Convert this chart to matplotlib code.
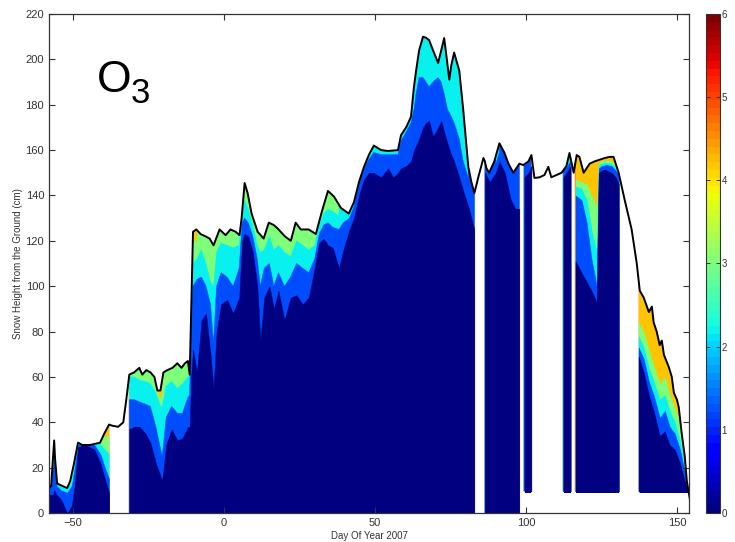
import numpy as np
import matplotlib
matplotlib.use('Agg')
import matplotlib.pyplot as plt
from matplotlib.cm import ScalarMappable
from matplotlib.colors import Normalize

plt.rcParams['font.family'] = ['Liberation Sans', 'DejaVu Sans']

# snow surface height (cm) by day of year
day = [-58.0, -57.3, -56.7, -56.3, -56.0, -55.3, -53.7, -52.0, -51.0, -49.7,
       -48.4, -47.0, -44.4, -41.1, -39.7, -38.1, -37.1, -35.1, -33.4, -32.4,
       -31.4, -29.8, -28.1, -27.1, -25.8, -24.4, -23.1, -22.1, -21.1, -20.1,
       -18.8, -17.1, -15.5, -14.1, -13.0, -12.0, -11.4, -10.3, -9.2, -7.8,
       -6.2, -4.8, -3.5, -1.5, 0.5, 2.1, 3.8, 5.1, 5.8, 6.8,
       7.8, 9.1, 11.1, 13.1, 14.8, 16.4, 17.7, 20.1, 22.1, 23.7,
       25.4, 28.0, 30.4, 32.4, 34.4, 36.4, 38.7, 41.3, 43.0, 44.7,
       46.3, 48.0, 49.6, 52.0, 54.3, 57.6, 58.6, 60.3, 61.9, 62.9,
       63.6, 64.6, 65.9, 66.9, 67.9, 69.2, 70.9, 71.9, 72.9, 73.6,
       74.6, 75.2, 76.2, 77.9, 79.2, 80.9, 81.9, 82.9, 84.2, 85.9,
       86.4, 86.9, 87.8, 89.5, 91.2, 92.8, 94.2, 95.8, 97.8, 99.1,
       100.8, 101.8, 102.8, 104.5, 106.1, 107.4, 108.4, 110.1, 111.8, 113.4,
       114.4, 115.8, 116.8, 117.7, 119.1, 121.1, 122.7, 124.1, 126.1, 127.7,
       129.0, 130.7, 132.7, 135.0, 136.7, 137.7, 139.0, 140.7, 141.7, 142.3,
       143.3, 144.3, 145.0, 145.7, 147.3, 148.3, 149.0, 150.0, 150.6, 151.6,
       152.6, 153.3, 154.3]
height = [11, 12, 24, 32, 24, 13, 12, 11, 14, 22,
          31, 30, 30, 31, 35, 39, 38.5, 38, 40, 50,
          61, 62, 64, 61, 63, 62, 60, 54, 54, 62,
          63, 64, 66, 64, 66, 67, 61, 124, 125, 123,
          122, 121, 118, 125, 122.5, 125, 124, 122.5, 130, 145.5,
          141, 132, 124, 121, 128, 127, 125.5, 122, 120, 128,
          125, 125, 123, 133, 142, 139.5, 134.5, 132, 137, 146,
          152.5, 158, 162, 160, 159.6, 160, 166.6, 170, 174.6, 188,
          195, 204, 210, 209.5, 208.5, 204, 198.4, 204, 209.4, 202,
          191, 197, 203, 195, 178, 152.6, 146, 141, 148, 156.5,
          155, 152, 150, 155, 163, 159, 154, 150, 154, 153.4,
          155, 157.8, 147.7, 148, 149, 152.6, 148, 149, 150, 153,
          158.7, 150, 157.8, 157, 150, 154, 155, 155.6, 156.5, 157,
          157, 150, 138, 125, 110, 98, 95, 88.6, 91, 84,
          80, 74, 76, 69.7, 64.4, 60, 53, 50, 46.7, 35,
          25, 14, 6]

# O3 band tops (cm) for each stretch of profiles; 250 = band reaches the surface
# band order: 0-1, 1-2, 2-3, 3-4, 4-5 (5-6 fills the rest)
xa = [-58, -56.7, -56.3, -55.5, -54, -52, -50.5, -49.5, -48.4, -46, -43, -41, -39.5, -38.1]
a_top1 = [8, 8, 10, 8, 6, 0, 3, 12, 29, 30, 28, 22, 15, 9]
a_top2 = [11, 20, 24, 12, 10, 9, 12, 20, 30, 30, 30, 26, 20, 15]
a_top3 = [250, 250, 250, 250, 12.5, 11.5, 13, 22, 250, 250, 250, 30, 28, 26]
a_top4 = [250, 250, 250, 250, 250, 250, 250, 250, 250, 250, 250, 250, 33, 34]

xb = [-31.4, -29.8, -28.0, -26.0, -24.4, -22.6, -21.0, -20.5, -19.2, -17.4,
      -15.5, -13.8, -12.0, -11.4, -10.9, -10.3, -9.0, -7.5, -6.0, -4.5,
      -3.5, -2.5, -1.0, 1.0, 3.0, 5.0, 6.0, 6.8, 8.0, 9.5,
      11.0, 12.0, 13.3, 15.0, 16.5, 18.0, 20.0, 22.0, 24.0, 26.0,
      28.0, 30.0, 31.5, 33.0, 34.4, 36.0, 38.0, 39.5, 41.5, 43.0,
      44.7, 46.3, 48.0, 49.6, 52.0, 54.3, 56.0, 57.6, 58.6, 60.3,
      61.9, 62.9, 63.6, 64.6, 65.9, 66.9, 67.9, 69.2, 70.9, 71.9,
      72.9, 74.0, 75.2, 76.2, 77.9, 79.2, 80.9, 82.9]
b_top1 = [37, 38, 38, 35, 31, 22, 16, 14.5, 30, 37,
          32, 33, 38, 38, 60, 72, 62, 85, 88, 70,
          55, 80, 92, 94, 88, 95, 120, 123, 122, 115,
          100, 76, 95, 100, 90, 98, 85, 95, 96, 92,
          95, 108, 119, 121, 118, 117, 108, 116, 125, 130,
          140, 147, 150, 150, 148, 152, 148, 150, 152, 153,
          155, 160, 162, 165, 170, 172, 173, 166, 170, 173,
          168, 163, 158, 155, 148, 142, 135, 125]
b_top2 = [50, 50, 49, 48, 47, 38, 28, 25, 42, 47,
          44, 44, 51, 52, 90, 100, 103, 104, 100, 92,
          75, 100, 106, 104, 100, 108, 128, 130, 128, 122,
          112, 100, 108, 110, 100, 106, 100, 104, 110, 108,
          106, 112, 123, 127, 128, 126, 125, 128, 130, 135,
          146, 152, 156, 159, 158, 158, 158, 158, 164, 168,
          172, 178, 185, 192, 192, 190, 188, 190, 192, 190,
          185, 178, 175, 172, 165, 155, 148, 250]
b_top3 = [60, 60, 58.6, 58, 57, 53, 47, 47, 56, 58,
          55, 57, 60, 60, 100, 110, 112, 116, 110, 102,
          100, 115, 119, 118, 117, 118, 135, 138, 134, 127,
          118, 115, 116, 122, 116, 118, 115, 113, 120, 118,
          116, 118, 127, 132, 134, 133, 131, 250, 250, 250,
          250, 250, 250, 250, 250, 250, 250, 250, 250, 250,
          250, 250, 250, 250, 250, 250, 250, 250, 250, 250,
          250, 250, 250, 250, 250, 250, 250, 250]
b_top4 = [250, 250, 250, 250, 250, 55, 50, 52, 250, 250,
          250, 250, 250, 250, 250, 121, 119, 250, 250, 250,
          250, 250, 250, 250, 250, 250, 250, 250, 250, 250,
          250, 250, 250, 250, 250, 250, 250, 250, 250, 250,
          250, 250, 250, 250, 250, 250, 250, 250, 250, 250,
          250, 250, 250, 250, 250, 250, 250, 250, 250, 250,
          250, 250, 250, 250, 250, 250, 250, 250, 250, 250,
          250, 250, 250, 250, 250, 250, 250, 250]

xc = [86.4, 88, 90, 91.2, 93, 95, 96.5, 97.8]
c_top1 = [150, 146, 150, 155, 150, 138, 134, 134]
c_top2 = [250, 250, 154, 159, 250, 250, 250, 250]

xd = [99.5, 100.8, 101.8]
d_top1 = [148, 150, 153]

xe = [112.4, 113.4, 114.8]
e_top1 = [148, 150, 153]
e_top2 = [250, 152, 155]

xf = [116.4, 118.4, 120.1, 121.7, 123.4, 124.1, 125.1, 126.7, 128.4, 129.7, 130.7]
f_top1 = [111, 106, 102, 98, 93, 150, 151, 151, 150, 148, 145]
f_top2 = [140, 138, 128, 112, 100, 152, 153, 153.5, 153, 151, 149]
f_top3 = [144, 143, 138, 125, 115, 153.5, 154, 154.5, 154, 152, 150]
f_top4 = [147, 146, 145, 140, 135, 154.5, 155, 155.5, 155, 153, 151]
f_top5 = [250, 250, 250, 250, 250, 155.5, 250, 250, 156, 250, 250]

xg = [137.3, 139.0, 140.7, 142.3, 144.3, 146.0, 147.6, 149.3, 151.0, 152.6, 153.6]
g_top1 = [69, 62, 52, 45, 34, 36, 30, 28, 22, 14, 10]
g_top2 = [73, 68, 58, 52, 42, 45, 38, 35, 28, 18, 11]
g_top3 = [78, 73, 64, 58, 50, 52, 45, 40, 32, 22, 12]
g_top4 = [84, 80, 72, 65, 57, 60, 52, 46, 40, 28, 14]

cmap = plt.get_cmap('jet')
norm = Normalize(0, 6)
# one jet shade per concentration band, lowest band first
band_colors = [cmap(f) for f in (0.0, 0.2, 0.36, 0.5, 0.7, 0.86)]

fig = plt.figure(figsize=(7.35, 5.42), dpi=100)
ax = fig.add_axes([0.0667, 0.0535, 0.8707, 0.9207])

# snowpack outline, used only to clip the coloured bands
snow = ax.fill_between(day, 0, height, facecolor='none', lw=0)
snow_path = snow.get_paths()[0]


def draw_stretch(x, bottom, tops):
    # paint from the highest band down so each lower band covers the one above
    for k in range(len(band_colors) - 1, -1, -1):
        upper = tops[k] if k < len(tops) else [250] * len(x)
        band = ax.fill_between(x, bottom, upper, facecolor=band_colors[k],
                               edgecolor=band_colors[k], lw=0.3)
        band.set_clip_path(snow_path, ax.transData)


draw_stretch(xa, 0, [a_top1, a_top2, a_top3, a_top4])
draw_stretch(xb, 0, [b_top1, b_top2, b_top3, b_top4])
draw_stretch(xc, 0, [c_top1, c_top2])
draw_stretch(xd, 9.5, [d_top1])
draw_stretch(xe, 9.5, [e_top1, e_top2])
draw_stretch(xf, 9.5, [f_top1, f_top2, f_top3, f_top4, f_top5])
draw_stretch(xg, 9.5, [g_top1, g_top2, g_top3, g_top4])

ax.plot(day, height, color='black', lw=1.4, solid_joinstyle='round')

ax.set_xlim(-58, 154)
ax.set_ylim(0, 220)
ax.set_xticks([-50, 0, 50, 100, 150])
ax.set_yticks(np.arange(0, 221, 20))
ax.tick_params(direction='in', top=True, right=True, length=4, width=0.8,
               labelsize=8, labelcolor='#333333', color='#333333')
for s in ax.spines.values():
    s.set_color('#333333')
    s.set_linewidth(0.9)
ax.set_xlabel('Day Of Year 2007', fontsize=7, color='#333333', labelpad=2)
ax.set_ylabel('Snow Height from the Ground (cm)', fontsize=7, color='#333333', labelpad=2)

ax.text(0.075, 0.8437, 'O', fontsize=32, transform=ax.transAxes, va='baseline')
ax.text(0.127, 0.8216, '3', fontsize=25, transform=ax.transAxes, va='baseline')

cax = fig.add_axes([0.9605, 0.0535, 0.019, 0.9207])
cb = fig.colorbar(ScalarMappable(norm=norm, cmap=plt.get_cmap('jet', 64)), cax=cax)
cb.set_ticks(range(7))
cax.tick_params(axis='y', direction='in', left=True, right=True, length=3,
                width=0.7, labelsize=7, labelcolor='#333333', color='#333333', pad=1)
cb.outline.set_edgecolor('#333333')
cb.outline.set_linewidth(0.8)

fig.savefig('out.png', dpi=100)
